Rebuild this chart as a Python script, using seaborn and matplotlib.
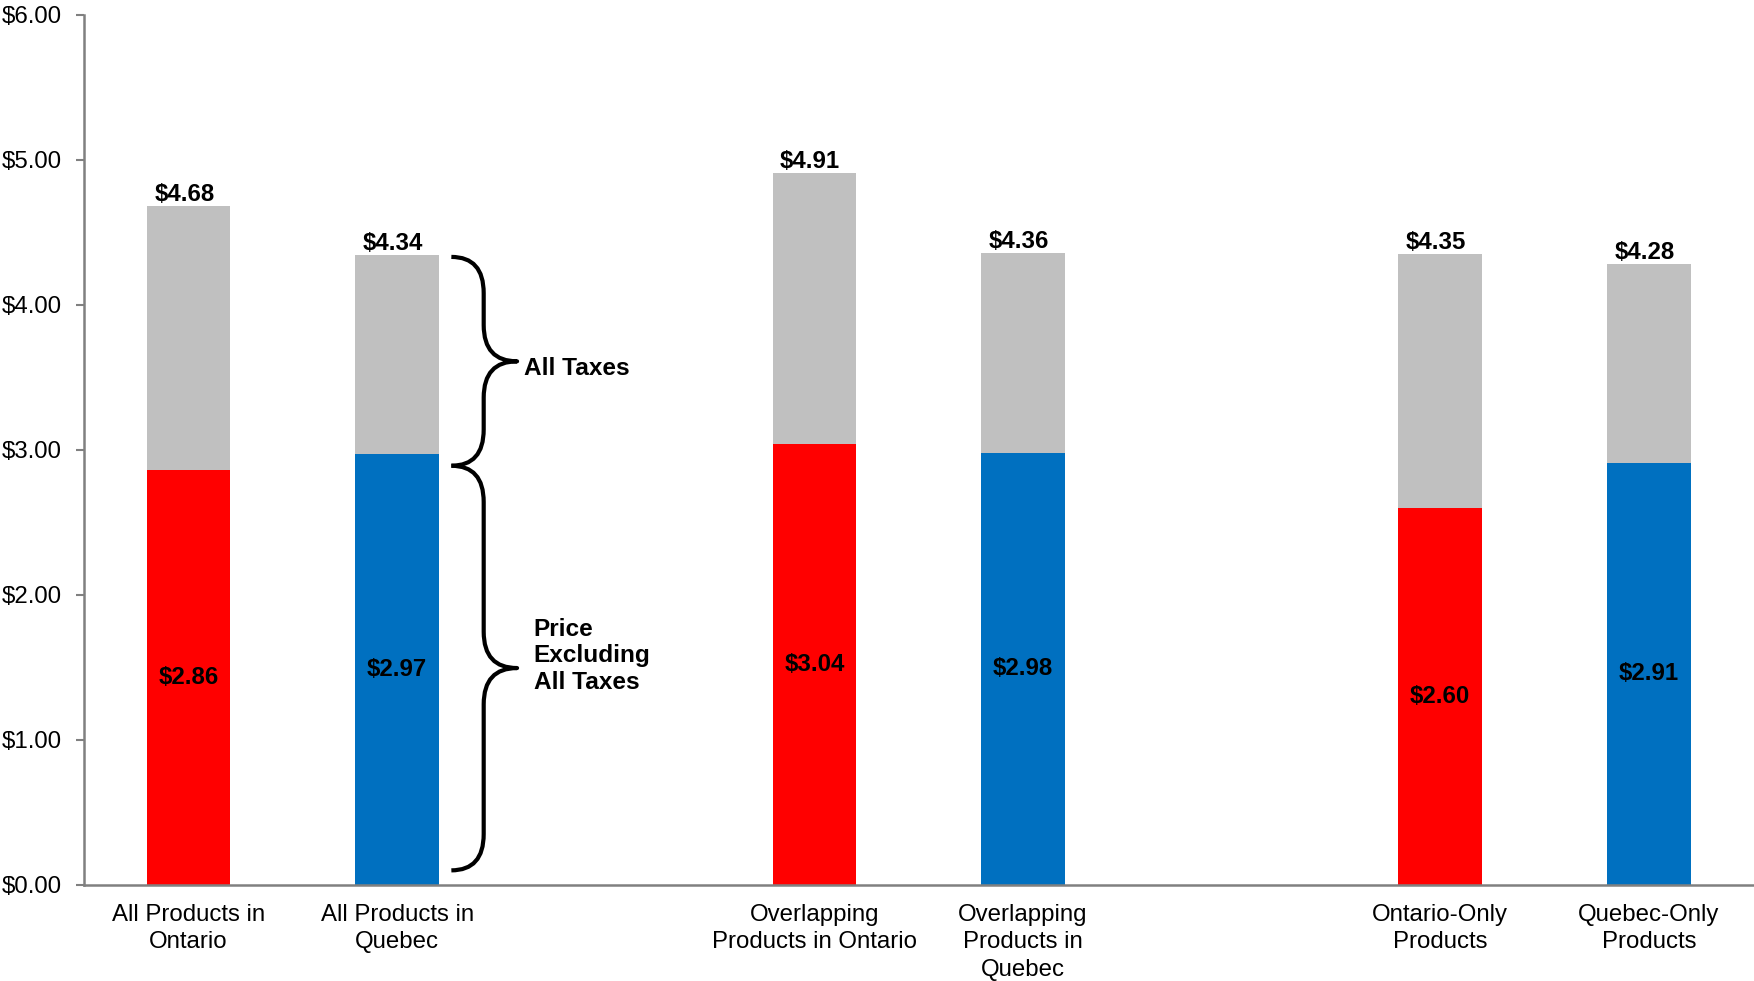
import matplotlib
matplotlib.use("Agg")
import matplotlib.pyplot as plt
from matplotlib.path import Path
from matplotlib.patches import PathPatch
from matplotlib.ticker import FuncFormatter, FixedLocator
import seaborn as sns
import pandas as pd

# ---- data ----
categories = ["All Products in\nOntario", "All Products in\nQuebec",
              "Overlapping\nProducts in Ontario", "Overlapping\nProducts in\nQuebec",
              "Ontario-Only\nProducts", "Quebec-Only\nProducts"]
province = ["Ontario", "Quebec", "Ontario", "Quebec", "Ontario", "Quebec"]
price_ex_tax = [2.86, 2.97, 3.04, 2.98, 2.60, 2.91]
price_total = [4.68, 4.34, 4.91, 4.36, 4.35, 4.28]
slot_order = [categories[0], categories[1], " ", categories[2], categories[3], "  ",
              categories[4], categories[5]]
y_ticks = [0, 1, 2, 3, 4, 5, 6]

colors = {"Ontario": "#FF0000", "Quebec": "#0070C0"}
tax_color = "#C0C0C0"

df = pd.DataFrame({"category": categories, "province": province,
                   "base": price_ex_tax, "total": price_total})

sns.set_theme(style="white")
plt.rcParams["font.family"] = ["Liberation Sans", "DejaVu Sans"]

fig = plt.figure(figsize=(17.54, 9.81), dpi=100)
ax = fig.add_axes([0.048, 0.098, 0.9515, 0.887])

sns.barplot(data=df, x="category", y="total", order=slot_order, color=tax_color,
            width=0.4, linewidth=0, saturation=1, ax=ax)
sns.barplot(data=df, x="category", y="base", order=slot_order, hue="province",
            palette=colors, width=0.4, linewidth=0, saturation=1, dodge=False,
            legend=False, ax=ax)

fs = 17.3
for _, r in df.iterrows():
    pos = slot_order.index(r["category"])
    ax.text(pos - 0.02, r["total"] + 0.0, f"${r['total']:.2f}", ha="center", va="bottom",
            fontsize=fs, fontweight="bold", color="black")
    ax.text(pos, r["base"] / 2, f"${r['base']:.2f}", ha="center", va="center",
            fontsize=fs, fontweight="bold", color="black")

# axes styling
ax.set_xlim(-0.5, len(slot_order) - 0.5)
ax.set_ylim(0, 6)
ax.yaxis.set_major_locator(FixedLocator(y_ticks))
ax.yaxis.set_major_formatter(FuncFormatter(lambda v, p: f"${v:.2f}"))
ax.set_xlabel("")
ax.set_ylabel("")
ax.set_xticks(range(len(slot_order)))
ax.set_xticklabels([s.strip() for s in slot_order])
ax.set_xticks([i - 0.5 for i in range(len(slot_order) + 1)], minor=True)
ax.tick_params(axis="x", which="major", length=0, pad=14, labelsize=fs, colors="black")
ax.tick_params(axis="x", which="minor", length=7, width=1.5, color="#808080", direction="out")
ax.tick_params(axis="y", which="major", length=6, width=1.5, color="#808080",
               direction="out", pad=10, labelsize=fs, labelcolor="black", left=True)
for s in ["top", "right"]:
    ax.spines[s].set_visible(False)
for s in ["left", "bottom"]:
    ax.spines[s].set_color("#808080")
    ax.spines[s].set_linewidth(1.8)
ax.grid(False)
for lbl in ax.get_xticklabels():
    lbl.set_linespacing(1.3)


def brace(ax, x_end, x_spine, x_tip, y_top, y_bot, d):
    y_mid = (y_top + y_bot) / 2
    verts = [(x_end, y_top), (x_spine, y_top), (x_spine, y_top - d),
             (x_spine, y_mid + d), (x_spine, y_mid), (x_tip, y_mid),
             (x_spine, y_mid), (x_spine, y_mid - d),
             (x_spine, y_bot + d), (x_spine, y_bot), (x_end, y_bot)]
    codes = [Path.MOVETO, Path.CURVE3, Path.CURVE3,
             Path.LINETO, Path.CURVE3, Path.CURVE3,
             Path.CURVE3, Path.CURVE3,
             Path.LINETO, Path.CURVE3, Path.CURVE3]
    ax.add_patch(PathPatch(Path(verts, codes), fill=False, lw=3, color="black",
                           capstyle="butt", joinstyle="round"))


brace(ax, 1.26, 1.415, 1.575, 4.33, 2.89, 0.25)
brace(ax, 1.26, 1.415, 1.575, 2.89, 0.10, 0.25)
ax.text(1.61, 3.56, "All Taxes", ha="left", va="center", fontsize=fs + 0.3,
        fontweight="bold", color="black")
ax.text(1.655, 1.58, "Price\nExcluding\nAll Taxes", ha="left", va="center",
        fontsize=fs + 0.3, fontweight="bold", color="black", linespacing=1.2)

fig.savefig("out.png", dpi=100)
